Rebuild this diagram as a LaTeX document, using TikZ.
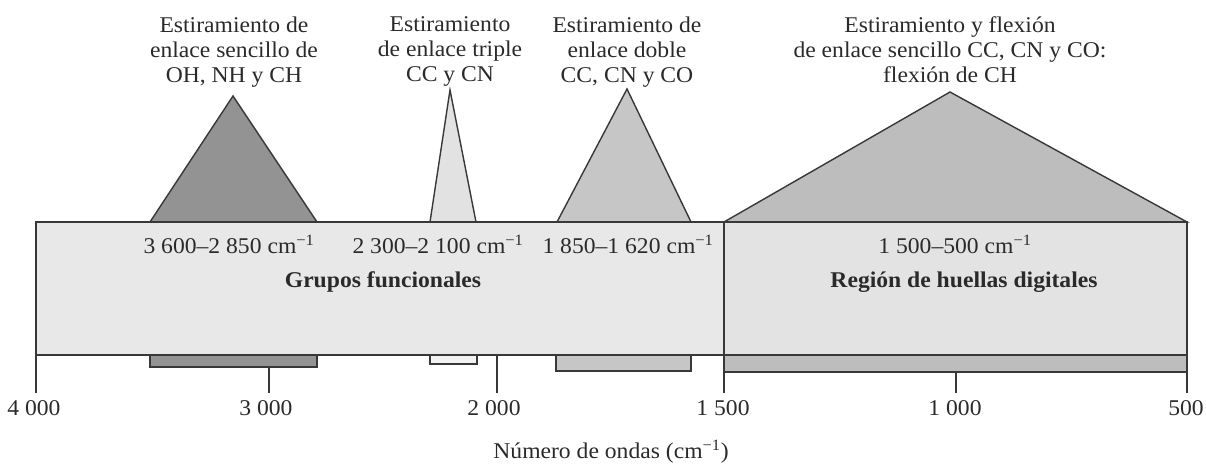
\documentclass[tikz,border=0pt]{standalone}
\usepackage{fontspec}
\setmainfont{Liberation Serif}[FakeStretch=1.05]
\definecolor{ink}{HTML}{2A2A2A}
\definecolor{edge}{HTML}{383838}
\definecolor{boxL}{HTML}{E8E8E8}
\definecolor{boxR}{HTML}{E3E3E3}
\definecolor{ohfill}{HTML}{939393}
\definecolor{trfill}{HTML}{E2E2E2}
\definecolor{dbfill}{HTML}{C6C6C6}
\definecolor{fpfill}{HTML}{BDBDBD}
\definecolor{trbar}{HTML}{F2F2F2}
\begin{document}
\begin{tikzpicture}[x=1pt,y=-1pt]
\tikzset{
  lbl/.style={font=\fontsize{22.5}{25}\selectfont, text=ink, inner sep=0pt},
  toplbl/.style={lbl, align=center, anchor=north},
  rng/.style={lbl, anchor=base},
  boldlbl/.style={lbl, anchor=base, font=\fontsize{22.5}{25}\selectfont\bfseries},
  outline/.style={draw=edge, line width=1.4pt, line join=miter},
  tickline/.style={draw=edge, line width=1.4pt},
}
\useasboundingbox (0,0) rectangle (1206,465);

% coordinates
\coordinate (bTL) at (36,222);
\coordinate (bBR) at (1187,355);
\coordinate (mTop) at (724,222);
\coordinate (mBot) at (724,355);

% peaks
\coordinate (ohL) at (150,222); \coordinate (ohA) at (233,96);  \coordinate (ohR) at (317,222);
\coordinate (trL) at (430,222); \coordinate (trA) at (450,90);  \coordinate (trR) at (476,222);
\coordinate (dbL) at (557,222); \coordinate (dbA) at (627,89);  \coordinate (dbR) at (691,222);
\coordinate (fpL) at (724,222); \coordinate (fpA) at (950,92);  \coordinate (fpR) at (1187,222);

\draw[outline, fill=ohfill] (ohL) -- (ohA) -- (ohR) -- cycle;
\draw[outline, fill=trfill] (trL) -- (trA) -- (trR) -- cycle;
\draw[outline, fill=dbfill] (dbL) -- (dbA) -- (dbR) -- cycle;
\draw[outline, fill=fpfill] (fpL) -- (fpA) -- (fpR) -- cycle;

% lower bars
\draw[outline, fill=ohfill] (150,355) rectangle (317,367);
\draw[outline, fill=trbar] (430,355) rectangle (477,364);
\draw[outline, fill=dbfill] (556,355) rectangle (691,371);
\draw[outline, fill=fpfill] (724,355) rectangle (1187,372);

% main box
\fill[boxL] (bTL) rectangle (mBot);
\fill[boxR] (mTop) rectangle (bBR);
\draw[outline] (bTL) rectangle (bBR);

% ticks
\coordinate (t4a) at (36,355);   \coordinate (t4b) at (36,393);
\coordinate (t3a) at (269,367);  \coordinate (t3b) at (269,393);
\coordinate (t2a) at (497,355);  \coordinate (t2b) at (497,393);
\coordinate (t15b) at (724,393);
\coordinate (t1a) at (956,372);  \coordinate (t1b) at (956,393);
\coordinate (t05a) at (1187,372); \coordinate (t05b) at (1187,393);
\draw[tickline] (t4a) -- (t4b);
\draw[tickline] (t3a) -- (t3b);
\draw[tickline] (t2a) -- (t2b);
\draw[tickline] (mTop) -- (t15b);
\draw[tickline] (t1a) -- (t1b);
\draw[tickline] (t05a) -- (t05b);

% tick labels
\node[rng] (l4000) at (34,415) {4 000};
\node[rng] (l3000) at (266,415) {3 000};
\node[rng] (l2000) at (494,415) {2 000};
\node[rng] (l1500) at (723,415) {1 500};
\node[rng] (l1000) at (955,415) {1 000};
\node[rng] (l500) at (1186,415) {500};
\node[rng] (axis) at (611,458) {Número de ondas (cm\textsuperscript{−1})};

% top labels
\node[toplbl] (tOH) at (234,16.5) {Estiramiento de\\enlace sencillo de\\OH, NH y CH};
\node[toplbl] (tTR) at (450,16.5) {Estiramiento\\de enlace triple\\CC y CN};
\node[toplbl] (tDB) at (627,16.5) {Estiramiento de\\enlace doble\\CC, CN y CO};
\node[toplbl] (tFP) at (950,16.5) {Estiramiento y flexión\\de enlace sencillo CC, CN y CO:\\flexión de CH};

% range labels
\node[rng] (rOH) at (229,253) {3 600–2 850 cm\textsuperscript{−1}};
\node[rng] (rTR) at (438,253) {2 300–2 100 cm\textsuperscript{−1}};
\node[rng] (rDB) at (628,253) {1 850–1 620 cm\textsuperscript{−1}};
\node[rng] (rFP) at (955,253) {1 500–500 cm\textsuperscript{−1}};

\node[boldlbl] (gF) at (383,287) {Grupos funcionales};
\node[boldlbl] (gR) at (964,287) {Región de huellas digitales};
\end{tikzpicture}
\end{document}
